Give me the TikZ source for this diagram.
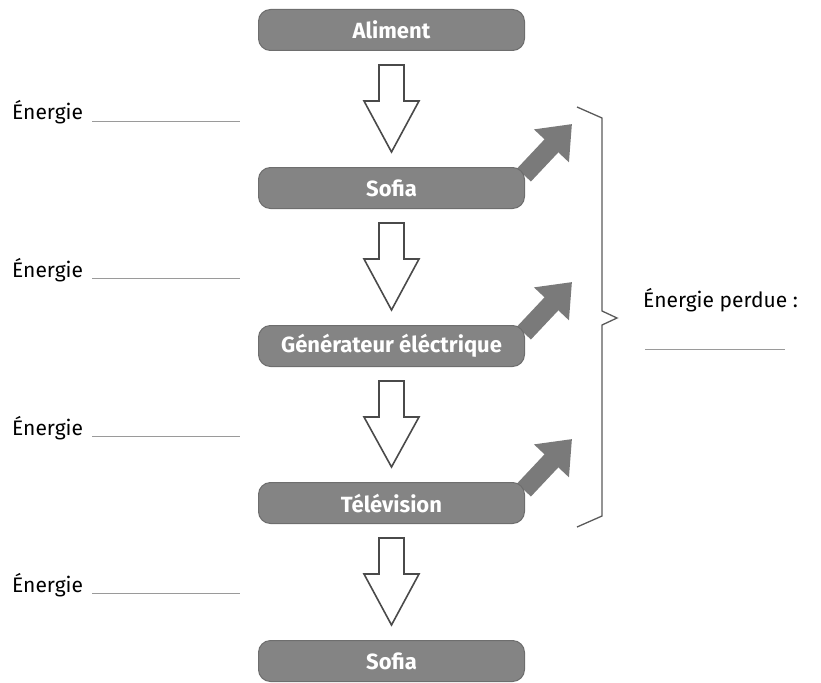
\documentclass[tikz,border=0pt]{standalone}
\usepackage{fontspec}
\setmainfont{Fira Sans}
\usetikzlibrary{calc,arrows.meta,backgrounds}
\definecolor{boxgray}{HTML}{848484}
\definecolor{boxedge}{HTML}{6E6E6E}
\definecolor{lossgray}{HTML}{7A7A7A}
\definecolor{outl}{HTML}{4A4A4A}
\definecolor{blankgray}{HTML}{9A9A9A}
\definecolor{bracegray}{HTML}{5A5A5A}
\begin{document}
\begin{tikzpicture}[x=1pt,y=-1pt,
  stage/.style={draw=boxedge, fill=boxgray, rounded corners=12pt, minimum width=266pt, minimum height=41pt, text=white, font=\bfseries\fontsize{22}{26}\selectfont, inner sep=0pt, line width=1pt},
  lab/.style={font=\fontsize{21}{25}\selectfont, inner sep=0pt, text=black},
  hollow/.style={draw=outl, fill=white, line width=1.6pt, line join=miter},
  loss/.style={draw=lossgray, line width=19pt, -{Triangle[width=46pt,length=30pt]}},
  blank/.style={draw=blankgray, line width=0.8pt},
  bracestyle/.style={draw=bracegray, line width=1.3pt}
]
\useasboundingbox (0,0) rectangle (821,682);

\node[stage] (aliment) at (391.5,30) {Aliment};
\node[stage] (sofiaA) at (391.5,188) {Sofia};
\node[stage] (gen) at (391.5,346) {Générateur éléctrique};
\node[stage] (tele) at (391.5,503) {Télévision};
\node[stage] (sofiaB) at (391.5,661) {Sofia};

% loss arrows behind the boxes
\begin{scope}[on background layer]
\foreach \b in {sofiaA,gen,tele}{
  \draw[loss] ($(\b.north east)+(-1,8)$) -- ($(\b.north east)+(47,-43)$);
}
\end{scope}

% hollow arrows
\foreach \a/\b in {aliment/sofiaA, sofiaA/gen, gen/tele, tele/sofiaB}{
  \draw[hollow] ($(\a.south)+(-12.5,14)$) -- ($(\a.south)+(-12.5,50)$)
     -- ($(\a.south)+(-27.5,50)$) -- ($(\b.north)+(0,-15)$)
     -- ($(\a.south)+(27.5,50)$) -- ($(\a.south)+(12.5,50)$)
     -- ($(\a.south)+(12.5,14)$) -- cycle;
}

% left labels
\foreach \y [count=\i] in {120,277,435,592}{
  \node[lab, anchor=base west] (e\i) at (12,\y) {Énergie};
  \coordinate (bs\i) at (92,\y+1);
  \coordinate (be\i) at (240,\y+1);
  \draw[blank] (bs\i) -- (be\i);
}

% brace
\coordinate (br1) at (577,107);
\coordinate (br2) at (602,118);
\coordinate (br3) at (602,311);
\coordinate (br4) at (617,318);
\coordinate (br5) at (602,325);
\coordinate (br6) at (602,516);
\coordinate (br7) at (577,527);
\draw[bracestyle] (br1) -- (br2) -- (br3) -- (br4) -- (br5) -- (br6) -- (br7);

\node[lab, anchor=base west] (perdue) at (643,307) {Énergie perdue :};
\coordinate (ps) at (645,349);
\coordinate (pe) at (785,349);
\draw[blank] (ps) -- (pe);
\end{tikzpicture}
\end{document}
